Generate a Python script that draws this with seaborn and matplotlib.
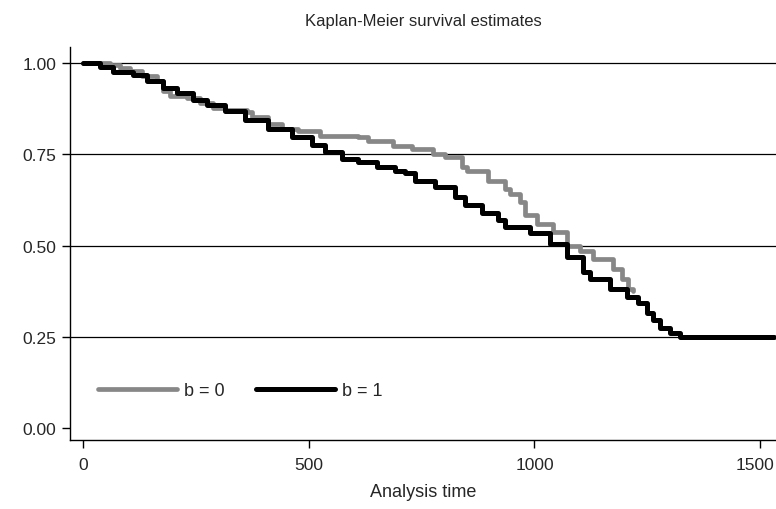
import matplotlib
matplotlib.use("Agg")
import matplotlib.pyplot as plt
import matplotlib.transforms as mtransforms
import seaborn as sns
import pandas as pd

# Kaplan-Meier step points (time, survival)
time_b0 = [0, 60, 82, 104, 130, 164, 177, 193, 230, 259, 288, 315, 363, 375,
           410, 441, 476, 525, 609, 631, 687, 729, 775, 802, 840, 850, 875,
           897, 935, 946, 968, 979, 1006, 1041, 1072, 1100, 1130, 1174, 1194,
           1207, 1218]
surv_b0 = [1.000, 0.995, 0.986, 0.978, 0.965, 0.950, 0.923, 0.910, 0.904,
           0.890, 0.877, 0.870, 0.866, 0.852, 0.833, 0.819, 0.814, 0.800,
           0.797, 0.786, 0.772, 0.764, 0.750, 0.742, 0.715, 0.703, 0.703,
           0.677, 0.655, 0.641, 0.619, 0.584, 0.559, 0.537, 0.500, 0.485,
           0.463, 0.436, 0.408, 0.381, 0.376]

time_b1 = [0, 38, 66, 111, 142, 177, 208, 244, 275, 315, 359, 410, 463, 507,
           536, 573, 609, 650, 690, 713, 736, 780, 824, 846, 884, 920, 935,
           990, 1035, 1072, 1108, 1123, 1168, 1205, 1230, 1249, 1262, 1278,
           1300, 1322, 1530]
surv_b1 = [1.000, 0.988, 0.975, 0.967, 0.952, 0.932, 0.918, 0.900, 0.886,
           0.868, 0.843, 0.820, 0.798, 0.775, 0.756, 0.738, 0.729, 0.715,
           0.705, 0.700, 0.677, 0.660, 0.633, 0.611, 0.590, 0.570, 0.550,
           0.535, 0.503, 0.470, 0.427, 0.408, 0.381, 0.359, 0.343, 0.316,
           0.297, 0.275, 0.261, 0.250, 0.250]

x_ticks = [0, 500, 1000, 1500]
y_ticks = [0.00, 0.25, 0.50, 0.75, 1.00]
y_tick_labels = ["0.00", "0.25", "0.50", "0.75", "1.00"]

df0 = pd.DataFrame({"t": time_b0, "s": surv_b0})
df1 = pd.DataFrame({"t": time_b1, "s": surv_b1})

sns.set_style("white")
plt.rcParams["font.family"] = ["Liberation Sans", "DejaVu Sans"]

fig = plt.figure(figsize=(7.76, 5.10), dpi=100)
ax = fig.add_axes([0.0902, 0.135, 0.9098, 0.771])

for y in y_ticks[1:]:
    ax.axhline(y, color="black", lw=0.9, zorder=1)

sns.lineplot(data=df0, x="t", y="s", ax=ax, color="#878787", lw=3.4,
             drawstyle="steps-post", estimator=None, label="b = 0", zorder=3)
sns.lineplot(data=df1, x="t", y="s", ax=ax, color="black", lw=3.6,
             drawstyle="steps-post", estimator=None, label="b = 1", zorder=4)

ax.set_xlim(-29, 1535)
ax.set_ylim(-0.033, 1.044)
ax.set_xticks(x_ticks)
ax.set_yticks(y_ticks)
ax.set_yticklabels(y_tick_labels)
ax.tick_params(axis="both", direction="out", length=6, width=1, color="black",
               labelsize=12.5, left=True, bottom=True)
ax.tick_params(axis="y", pad=4)
ax.tick_params(axis="x", pad=6)

# keep the last x label inside the figure edge
last = ax.get_xticklabels()[-1]
last.set_transform(last.get_transform() +
                   mtransforms.ScaledTranslation(-5 / 100, 0, fig.dpi_scale_trans))

for side in ["top", "right"]:
    ax.spines[side].set_visible(False)
for side in ["left", "bottom"]:
    ax.spines[side].set_color("black")
    ax.spines[side].set_linewidth(1.0)

ax.set_title("Kaplan-Meier survival estimates", fontsize=12, pad=16)
ax.set_xlabel("Analysis time", fontsize=13, labelpad=8)
ax.set_ylabel("")

ax.legend(loc="center left", bbox_to_anchor=(0.016, 0.125), ncol=2, frameon=False,
          fontsize=13, handlelength=4.4, columnspacing=1.7, handletextpad=0.4)

fig.savefig("out.png", dpi=100)
